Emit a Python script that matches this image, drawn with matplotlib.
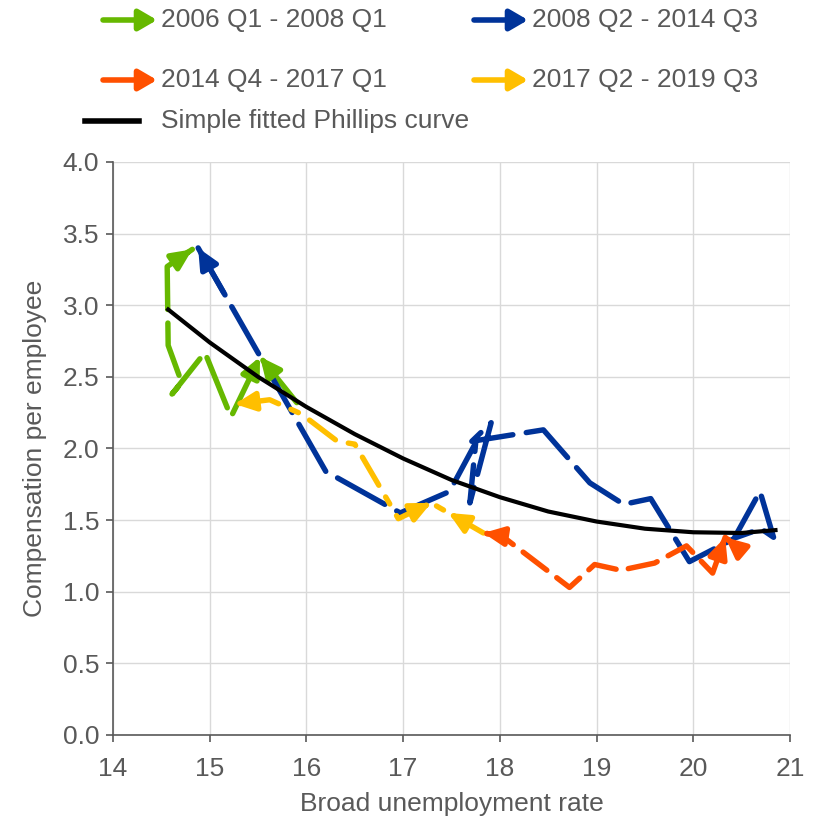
import numpy as np
import matplotlib.pyplot as plt
from matplotlib.patches import FancyArrowPatch

# данные
green_x = [15.90, 15.52, 15.22, 14.95, 14.61, 14.71, 14.57, 14.56, 14.82]
green_y = [2.32, 2.64, 2.22, 2.67, 2.38, 2.46, 2.72, 3.27, 3.39]

blue_x = [14.88, 16.20, 16.97, 17.48, 17.75, 17.69, 17.91, 17.71, 18.45, 18.93,
          19.28, 19.56, 19.96, 20.42, 20.69, 20.83, 20.70, 20.45]
blue_y = [3.40, 1.84, 1.55, 1.70, 2.04, 1.62, 2.18, 2.05, 2.13, 1.76,
          1.61, 1.65, 1.21, 1.37, 1.70, 1.38, 1.44, 1.38]

orange_x = [20.47, 20.33, 20.20, 19.93, 19.60, 19.25, 18.98, 18.72, 18.02, 17.83]
orange_y = [1.30, 1.38, 1.13, 1.32, 1.20, 1.15, 1.19, 1.03, 1.39, 1.41]

yellow_x = [17.83, 17.47, 17.29, 16.95, 16.50, 16.32, 15.95, 15.62, 15.26]
yellow_y = [1.41, 1.55, 1.62, 1.51, 2.03, 2.05, 2.24, 2.34, 2.31]

curve_x = [14.57, 15.0, 15.5, 16.0, 16.5, 17.0, 17.5, 18.0, 18.5, 19.0, 19.5, 20.0, 20.5, 20.85]
curve_y = [2.97, 2.74, 2.50, 2.29, 2.10, 1.93, 1.78, 1.66, 1.56, 1.49, 1.44, 1.415, 1.41, 1.43]

labels = ['2006 Q1 - 2008 Q1', '2008 Q2 - 2014 Q3', '2014 Q4 - 2017 Q1', '2017 Q2 - 2019 Q3']
colors = ['#66B800', '#003399', '#FF5000', '#FFBF00']

# стрелки: (откуда, куда) по индексам точек
green_arr = [(0, 1), (2, 1), (7, 8)]
blue_arr = [(1, 0)]
orange_arr = [(8, 9), (0, 1), (2, 1)]
yellow_arr = [(0, 1), (3, 2), (7, 8)]

series = [(green_x, green_y, green_arr, (10, 2.5)),
          (blue_x, blue_y, blue_arr, (10, 2.5)),
          (orange_x, orange_y, orange_arr, (5.5, 2.3)),
          (yellow_x, yellow_y, yellow_arr, (6, 2.5, 1.5, 2.5))]

txt = '#595959'
plt.rcParams['font.family'] = ['Liberation Sans', 'DejaVu Sans']
plt.rcParams['font.size'] = 19

fig = plt.figure(figsize=(8.15, 8.18), dpi=100)
ax = fig.add_axes([0.1387, 0.1015, 0.8306, 0.7005])

lw = 3.9
head = '-|>,head_length=0.6,head_width=0.28'
for i, (xs, ys, arrs, dash) in enumerate(series):
    ax.plot(xs, ys, color=colors[i], lw=lw, dashes=dash,
            dash_capstyle='round', solid_capstyle='round', zorder=3)
    for a, b in arrs:
        x0, y0 = xs[a], ys[a]
        x1, y1 = xs[b], ys[b]
        xa = x1 - 0.2 * (x1 - x0)
        ya = y1 - 0.2 * (y1 - y0)
        ax.annotate('', xy=(x1, y1), xytext=(xa, ya),
                    arrowprops=dict(arrowstyle=head, color=colors[i], lw=lw,
                                    mutation_scale=20, shrinkA=0, shrinkB=0),
                    zorder=4)

ax.plot(curve_x, curve_y, color='black', lw=3, zorder=5)

ax.set_xlim(14, 21)
ax.set_ylim(0, 4)
ax.set_xticks(range(14, 22))
ax.set_yticks(np.arange(0, 4.01, 0.5))
ax.set_yticklabels(['%.1f' % v for v in np.arange(0, 4.01, 0.5)])
ax.grid(True, color='#D9D9D9', lw=1)
ax.set_axisbelow(True)
for s in ['top', 'right']:
    ax.spines[s].set_visible(False)
for s in ['left', 'bottom']:
    ax.spines[s].set_color('#595959')
    ax.spines[s].set_linewidth(1.2)
ax.tick_params(colors='#595959', labelcolor=txt, length=5, width=1.2)
ax.tick_params(axis='x', pad=11)
ax.tick_params(axis='y', pad=5)
ax.set_xlabel('Broad unemployment rate', color=txt, labelpad=8)
ax.set_ylabel('Compensation per employee', color=txt, labelpad=11)

# легенда вручную (в пикселях рисунка)
W, H = 815.0, 818.0
leg = [(103, 20, 0), (474, 20, 1), (103, 80, 2), (474, 80, 3)]
for px, py, k in leg:
    fig.patches.append(FancyArrowPatch(
        (px / W, 1 - py / H), ((px + 54) / W, 1 - py / H), transform=fig.transFigure,
        arrowstyle='-|>,head_length=0.6,head_width=0.35', mutation_scale=18,
        color=colors[k], lw=4, shrinkA=0, shrinkB=0, capstyle='round'))
    fig.text((px + 58) / W, 1 - py / H, labels[k], color=txt, va='center', ha='left')
fig.add_artist(plt.Line2D([85 / W, 139 / W], [1 - 121 / H, 1 - 121 / H], color='black', lw=4))
fig.text(161 / W, 1 - 121 / H, 'Simple fitted Phillips curve', color=txt, va='center', ha='left')

fig.savefig('out.png', dpi=100)
